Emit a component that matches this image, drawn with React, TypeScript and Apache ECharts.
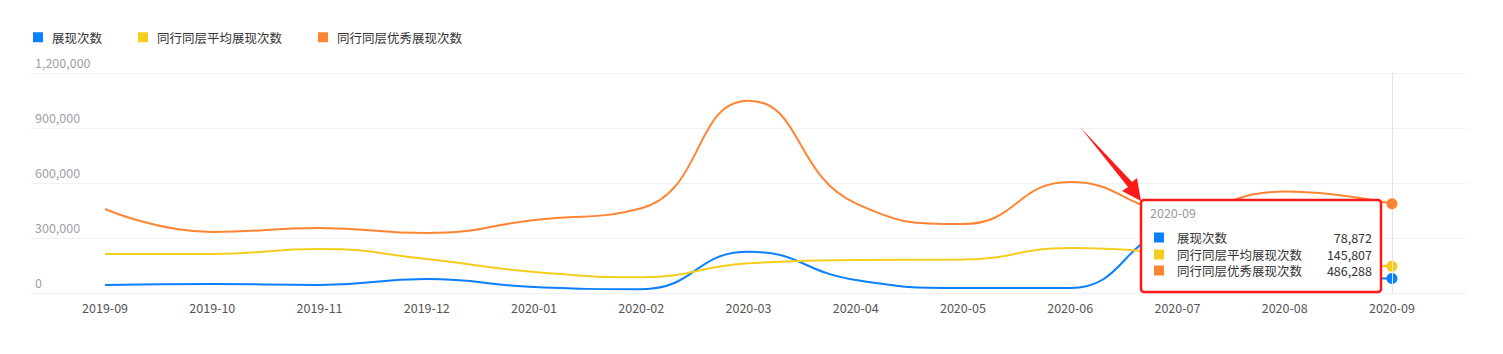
import React, { useEffect, useRef } from "react";
import * as echarts from "echarts";

const categories = [
  "2019-09", "2019-10", "2019-11", "2019-12", "2020-01", "2020-02", "2020-03",
  "2020-04", "2020-05", "2020-06", "2020-07", "2020-08", "2020-09",
];
const seriesNames = ["展现次数", "同行同层平均展现次数", "同行同层优秀展现次数"];
const showCount = [44000, 49000, 44000, 76000, 33000, 21000, 225000, 71000, 27000, 27000, 330000, 120000, 78872];
const avgCount = [213000, 213000, 240000, 185000, 115000, 86000, 162000, 180000, 183000, 245000, 215000, 170000, 145807];
const topCount = [458000, 333000, 355000, 327000, 398000, 462000, 1049000, 489000, 376000, 605000, 450000, 553000, 486288];
const yTicks = [0, 300000, 600000, 900000, 1200000];
const colors = ["#0a7fff", "#f5cd1f", "#ff8533"];
const tipTitle = "2020-09";

const FONT = "'Noto Sans CJK SC', 'Microsoft YaHei', sans-serif";
const fmt = (v: number) => v.toLocaleString("en-US");

export default function App() {
  const ref = useRef<HTMLDivElement>(null);
  useEffect(() => {
    document.body.style.margin = "0";
    if (!ref.current) return;
    const chart = echarts.init(ref.current, null, { renderer: "svg" });
    const lastIdx = categories.length - 1;
    const all = [showCount, avgCount, topCount];
    const mkData = (arr: number[]) =>
      arr.map((v, i) =>
        i === lastIdx
          ? { value: [i, v], symbol: "circle", symbolSize: 11 }
          : { value: [i, v] }
      );
    const series: any[] = all.map((arr, k) => ({
      name: seriesNames[k],
      type: "line",
      smooth: true,
      symbol: "none",
      showSymbol: true,
      data: mkData(arr),
      lineStyle: { width: 2, color: colors[k] },
      itemStyle: { color: colors[k] },
      z: 3 + k,
    }));
    series[0].markLine = {
      silent: true,
      symbol: "none",
      label: { show: false },
      lineStyle: { color: "#e3e3e3", type: "solid", width: 1 },
      data: [{ xAxis: lastIdx }],
    };

    const Z = 100;
    const rowY = [237.5, 254.5, 270.5];
    const tipChildren: any[] = [
      {
        type: "rect",
        z: Z,
        shape: { x: 1141, y: 200, width: 240, height: 92, r: 3 },
        style: { fill: "#ffffff", stroke: "#ff1a1a", lineWidth: 2.5 },
      },
      {
        type: "text",
        z: Z + 1,
        x: 1150,
        y: 212,
        style: { text: tipTitle, fill: "#999999", font: `12.5px ${FONT}`, verticalAlign: "middle" },
      },
    ];
    seriesNames.forEach((n, k) => {
      tipChildren.push({
        type: "rect",
        z: Z + 1,
        shape: { x: 1154, y: rowY[k] - 5, width: 10, height: 10 },
        style: { fill: colors[k] },
      });
      tipChildren.push({
        type: "text",
        z: Z + 1,
        x: 1177,
        y: rowY[k],
        style: { text: n, fill: "#333333", font: `12.5px ${FONT}`, verticalAlign: "middle" },
      });
      tipChildren.push({
        type: "text",
        z: Z + 1,
        x: 1372,
        y: rowY[k],
        style: {
          text: fmt(all[k][lastIdx]),
          fill: "#333333",
          font: `12.5px ${FONT}`,
          align: "right",
          verticalAlign: "middle",
        },
      });
    });

    chart.setOption({
      animation: false,
      textStyle: { fontFamily: FONT },
      color: colors,
      legend: {
        left: 28,
        top: 26,
        icon: "rect",
        itemWidth: 10,
        itemHeight: 10,
        itemGap: 36,
        textStyle: { fontSize: 12.5, color: "#333", padding: [0, 0, 0, 4] },
        data: seriesNames,
      },
      grid: { left: 30, right: 36, top: 73, bottom: 61, containLabel: false },
      xAxis: {
        type: "value",
        min: -0.7,
        max: 12.7,
        splitLine: { show: false },
        axisLine: { show: true, lineStyle: { color: "#eef0f5" } },
        axisTick: { show: false },
        axisLabel: {
          customValues: categories.map((_, i) => i),
          formatter: (v: number) => categories[Math.round(v)] ?? "",
          color: "#555",
          fontSize: 12.5,
          margin: 8,
        },
      },
      yAxis: {
        type: "value",
        min: 0,
        max: 1200000,
        interval: 300000,
        axisLine: { show: false },
        axisTick: { show: false },
        splitLine: { lineStyle: { color: "#f0f2f7" } },
        axisLabel: {
          inside: true,
          align: "left",
          verticalAlign: "bottom",
          margin: 5,
          color: "#a0a0a8",
          fontSize: 12.5,
          padding: [0, 0, 4, 0],
          formatter: (v: number) => (yTicks.includes(v) ? fmt(v) : ""),
        },
      },
      tooltip: { show: false },
      series,
      graphic: [
        {
          type: "polygon",
          z: Z,
          shape: {
            points: [
              [1080, 127],
              [1132, 182],
              [1137, 178],
              [1141, 201],
              [1122, 191],
              [1128, 187],
            ],
          },
          style: { fill: "#ff1a1a" },
        },
        { type: "group", z: Z, children: tipChildren },
      ],
    });
    return () => chart.dispose();
  }, []);
  return <div ref={ref} style={{ width: 1503, height: 354, background: "#fff" }} />;
}
